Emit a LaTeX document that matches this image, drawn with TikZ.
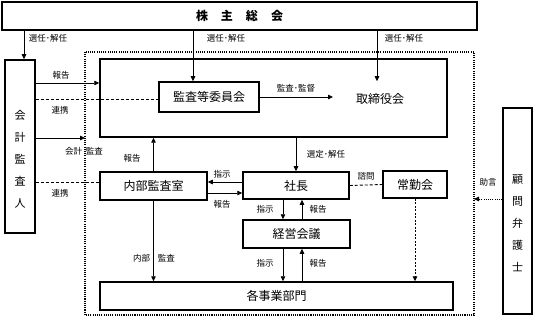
\documentclass[tikz,border=0pt]{standalone}
\usepackage{fontspec}
\newfontfamily\jp{Noto Sans CJK JP}
\usetikzlibrary{arrows.meta}

\tikzset{
  box/.style={draw, line width=1.5pt, inner sep=0pt, font=\jp\fontsize{12}{14}\selectfont},
  tag/.style={inner sep=1pt, font=\jp\fontsize{8.5}{10}\selectfont},
  vtext/.style={align=center, inner sep=0pt, font=\jp\fontsize{11}{22}\selectfont},
  arr/.style={-{Triangle[length=5pt,width=4.5pt]}, line width=0.8pt},
  link/.style={line width=0.9pt, dash pattern=on 3pt off 2pt},
  frame/.style={line width=1.3pt, dash pattern=on 1.1pt off 1.1pt},
}

\begin{document}
\begin{tikzpicture}[x=1pt, y=-1pt]
  \useasboundingbox (0,0) rectangle (533,318);

  % Dotted frame round the company
  \draw[frame] (85,52) rectangle (474,315);

  % Line positions
  \coordinate (xa) at (24,0);
  \coordinate (xb) at (193,0);
  \coordinate (xc) at (377,0);
  \coordinate (xd) at (283,0);
  \coordinate (xe) at (302,0);
  \coordinate (ya) at (0,83);
  \coordinate (yb) at (0,99);
  \coordinate (yd) at (0,182);
  \coordinate (ye) at (0,193);
  \coordinate (frameW) at (85,138);
  \coordinate (frameE) at (474,199);

  % Boxes
  \node[box, minimum width=475pt, minimum height=28pt,
    font=\jp\bfseries\fontsize{12}{14}\selectfont] (soukai) at (239.5,16)
    {株\hspace{13pt}主\hspace{13pt}総\hspace{13pt}会};
  \node[box, minimum width=30pt, minimum height=173pt] (kaikei) at (20,146.5) {};
  \node[vtext] (kaikeiText) at (20,159) {会\\計\\監\\査\\人};
  \node[box, minimum width=347pt, minimum height=78pt] (torishimari) at (273.5,98) {};
  \node[font=\jp\fontsize{12}{14}\selectfont, inner sep=0pt] (toriText) at (380,99) {取締役会};
  \node[box, minimum width=100pt, minimum height=30pt] (kansa) at (209,97) {監査等委員会};
  \node[box, minimum width=107pt, minimum height=28pt] (naibu) at (153.5,186) {内部監査室};
  \node[box, minimum width=106pt, minimum height=27pt] (shacho) at (296,185.5) {社長};
  \node[box, minimum width=64pt, minimum height=27pt] (joukin) at (415,184.5) {常勤会};
  \node[box, minimum width=107pt, minimum height=28pt] (keiei) at (296.5,234) {経営会議};
  \node[box, minimum width=353pt, minimum height=28pt] (jigyo) at (276.5,296) {各事業部門};
  \node[box, minimum width=29pt, minimum height=206pt] (komon) at (517.5,211) {};
  \node[vtext] (komonText) at (517.5,223) {顧\\問\\弁\\護\\士};

  % Elections from the general meeting
  \draw[arr] (soukai.south -| xa) -- (kaikei.north -| xa);
  \draw[arr] (soukai.south -| xb) -- (kansa.north -| xb);
  \draw[arr] (soukai.south -| xc) -- (xc |- kansa.north);
  \node[tag] (selA) at (48,38) {選任･解任};
  \node[tag] (selB) at (226,38) {選任･解任};
  \node[tag] (selC) at (404,38) {選任･解任};

  % Accounting auditor
  \draw[arr] (kaikei.east |- ya) -- (torishimari.west |- ya);
  \draw[link] (kaikei.east |- yb) -- (kansa.west |- yb);
  \draw[arr] (kaikei.east |- frameW) -- (frameW);
  \draw[link] (kaikei.east |- yd) -- (naibu.west |- yd);
  \node[tag] (repA) at (61,75) {報告};
  \node[tag] (linkA) at (60,110) {連携};
  \node[tag] (audA) at (84,151) {会計\hspace{4pt}監査};
  \node[tag] (linkB) at (60,193) {連携};

  % Board and committee
  \draw[arr] (kansa.east) -- (kansa.east -| 333,0);
  \node[tag] (superv) at (296,88) {監査･監督};
  \draw[arr] (torishimari.south -| shacho) -- (shacho.north);
  \node[tag] (appoint) at (326,154) {選定･解任};

  % Internal audit office
  \draw[arr] (naibu.north) -- (naibu.north |- torishimari.south);
  \node[tag] (repB) at (132,158) {報告};
  \draw[arr] (naibu.south) -- (naibu.south |- jigyo.north);
  \node[tag] (audB) at (154,258) {内部\hspace{8pt}監査};
  \draw[arr] (shacho.west |- yd) -- (naibu.east |- yd);
  \draw[arr] (naibu.east |- ye) -- (shacho.west |- ye);
  \node[tag] (ordA) at (222,174) {指示};
  \node[tag] (repC) at (222,204) {報告};

  % President, management meeting, divisions
  \draw[link] (shacho.east) -- (joukin.west);
  \node[tag] (consult) at (366,176) {諮問};
  \draw[link, -{Triangle[length=5pt,width=4.5pt]}, dash pattern=on 2pt off 1.5pt]
    (joukin.south) -- (joukin.south |- jigyo.north);
  \draw[arr] (shacho.south -| xd) -- (keiei.north -| xd);
  \draw[arr] (keiei.north -| xe) -- (shacho.south -| xe);
  \node[tag] (ordB) at (265,209) {指示};
  \node[tag] (repD) at (318,209) {報告};
  \draw[arr] (keiei.south -| xd) -- (jigyo.north -| xd);
  \draw[arr] (jigyo.north -| xe) -- (keiei.south -| xe);
  \node[tag] (ordC) at (265,263) {指示};
  \node[tag] (repE) at (318,263) {報告};

  % Legal adviser
  \draw[frame, line width=1pt, -{Triangle[length=5pt,width=4.5pt]}]
    (komon.west |- frameE) -- (frameE);
  \node[tag] (advice) at (488,182) {助言};

\end{tikzpicture}
\end{document}
